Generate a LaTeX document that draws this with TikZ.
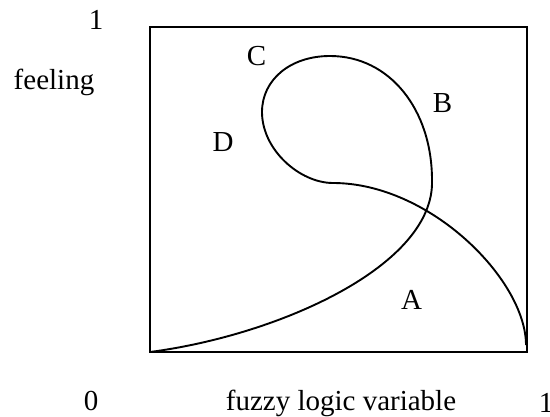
\documentclass[tikz,border=0pt]{standalone}
\usepackage{fontspec}
\setmainfont{Liberation Serif}
\begin{document}
\begin{tikzpicture}[x=1pt,y=-1pt,
  lbl/.style={anchor=base,inner sep=0pt,font=\fontsize{29}{32}\selectfont}]
\useasboundingbox (0,0) rectangle (550,417);
\draw[line width=2.5pt] (150,27) rectangle (527,352);
\draw[line width=1.9pt,line join=round]
  (150,352) .. controls (280,335) and (435,265) .. (432,180)
  .. controls (432,110) and (390,56) .. (330,56)
  .. controls (290,56) and (262,80) .. (262,112)
  .. controls (262,150) and (300,183) .. (333,183)
  .. controls (430,183) and (526,280) .. (526,345);
\node[lbl] (one) at (96,30) {1};
\node[lbl] (feel) at (54,90) {feeling};
\node[lbl] (C) at (256.5,66) {C};
\node[lbl] (B) at (442.5,113) {B};
\node[lbl] (D) at (223,152) {D};
\node[lbl] (A) at (411.5,310) {A};
\node[lbl] (zero) at (91,411) {0};
\node[lbl] (fz) at (341,411) {fuzzy logic variable};
\node[lbl] (oner) at (546,413) {1};
\end{tikzpicture}
\end{document}
